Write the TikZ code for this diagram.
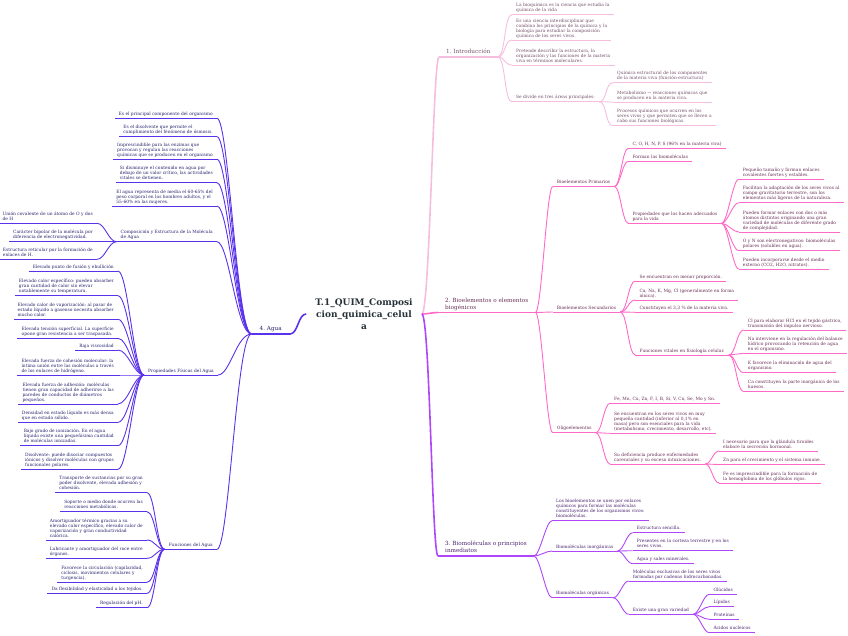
\documentclass[tikz,border=0pt]{standalone}
\usepackage{fontspec}
\setmainfont{DejaVu Serif}
\frenchspacing
\definecolor{rootText}{RGB}{38,50,56}
\definecolor{introLine}{RGB}{246,190,222}
\definecolor{introText}{RGB}{115,80,105}
\definecolor{bioLine}{RGB}{255,105,200}
\definecolor{bioText}{RGB}{105,45,85}
\definecolor{molLine}{RGB}{175,70,250}
\definecolor{molText}{RGB}{75,35,110}
\definecolor{aguaLine}{RGB}{90,50,235}
\definecolor{aguaText}{RGB}{40,35,110}
\newcommand\leaffont{\fontsize{4.4}{5}\selectfont}
\newcommand\branchfont{\fontsize{5.7}{6.8}\selectfont}
\tikzset{
myLeaf/.style={
	align=left, inner xsep=4pt, inner ysep=1.6pt,
	text depth=1.2pt, font=\leaffont
}
, myLeafR/.style={myLeaf, anchor=south west}
, myLeafL/.style={myLeaf, anchor=south east}
, myBranchR/.style={myLeafR, font=\branchfont, text depth=1.5pt, inner xsep=7pt}
, myBranchL/.style={myLeafL, font=\branchfont, text depth=1.5pt, inner xsep=8pt}
, myRoot/.style={
	align=center, inner xsep=9pt, inner ysep=2pt, text=rootText,
	font=\bfseries\fontsize{9}{12}\selectfont
}
% text colours
, myIntro/.style={myLeafR, text=introText}
, myBio/.style={myLeafR, text=bioText}
, myMol/.style={myLeafR, text=molText}
, myAgua/.style={myLeafL, text=aguaText}
% lines
, lnIntro/.style={draw=introLine, line width=0.9pt}
, lnBio/.style={draw=bioLine, line width=0.9pt}
, lnMol/.style={draw=molLine, line width=0.9pt}
, lnAgua/.style={draw=aguaLine, line width=0.9pt}
, lnMain/.style={line width=1.6pt}
% links
, myLinkR/.style={out=0,in=180,distance=#1}
, myLinkL/.style={out=180,in=0,distance=#1}
}
\begin{document}
\begin{tikzpicture}[x=1pt,y=-1pt]
	\useasboundingbox (0,0) rectangle (848,635);
	% root
	\node[myRoot] (root) at (364,314) {T.1\_QUIM\_Composi\\cion\_quimica\_celul\\a};

	% 1. Introduccion
	\node[myBranchR, text=introText] (i0) at (439,57) {1. Introducción};
	\node[myIntro] (i1) at (512,14.5) {La bioquímica es la ciencia que estudia la\\química de la vida};
	\node[myIntro] (i2) at (512,40) {Es una ciencia interdisciplinar que\\combina los principios de la química y la\\biología para estudiar la composición\\química de los seres vivos.};
	\node[myIntro] (i3) at (512,65) {Pretende describir la estructura, la\\organización y las funciones de la materia\\viva en términos moleculares.};
	\node[myIntro] (i4) at (512,101.7) {Se divide en tres áreas principales:};
	\node[myIntro] (i5) at (613,82.7) {Química estructural de los componentes\\de la materia viva (función-estructura)};
	\node[myIntro] (i6) at (613,102) {Metabolismo → reacciones químicas que\\se producen en la materia viva.};
	\node[myIntro] (i7) at (613,125.7) {Procesos químicos que ocurren en los\\seres vivos y que permiten que se lleven a\\cabo sus funciones biológicas.};

	% 2. Bioelementos
	\node[myBranchR, text=bioText] (b0) at (438,312.5) {2. Bioelementos o elementos\\biogénicos};
	\node[myBio] (b1) at (552.7,186.5) {Bioelementos Primarios};
	\node[myBio] (b11) at (628.3,148.3) {C, O, H, N, P, S (96\% en la materia viva)};
	\node[myBio] (b12) at (628.3,161.3) {Forman las biomoléculas};
	\node[myBio] (b13) at (628.3,223.3) {Propiedades que los hacen adecuados\\para la vida};
	\node[myBio] (b131) at (738.7,179.3) {Pequeño tamaño y forman enlaces\\covalentes fuertes y estables.};
	\node[myBio] (b132) at (738.7,202.7) {Facilitan la adaptación de los seres vivos al\\campo gravitatorio terrestre, son los\\elementos más ligeros de la naturaleza.};
	\node[myBio] (b133) at (738.7,232) {Pueden formar enlaces con dos o más\\átomos distintos originando una gran\\variedad de moléculas de diferente grado\\de complejidad.};
	\node[myBio] (b134) at (738.7,250.7) {O y N son electronegativos: biomoléculas\\polares (solubles en agua).};
	\node[myBio] (b135) at (738.7,269) {Pueden incorporarse desde el medio\\externo (CO2, H2O, nitratos).};
	\node[myBio] (b2) at (552.7,312) {Bioelementos Secundarios};
	\node[myBio] (b21) at (635.3,281) {Se encuentran en menor proporción.};
	\node[myBio] (b22) at (635.3,300) {Ca, Na, K, Mg, Cl (generalmente en forma\\iónica).};
	\node[myBio] (b23) at (635.3,312.3) {Constituyen el 3,3 \% de la materia viva.};
	\node[myBio] (b24) at (635.3,355) {Funciones vitales en fisiología celular.};
	\node[myBio] (b241) at (743.7,330) {Cl para elaborar HCl en el tejido gástrico,\\transmisión del impulso nervioso.};
	\node[myBio] (b242) at (743.7,353.3) {Na interviene en la regulación del balance\\hídrico provocando la retención de agua\\en el organismo.};
	\node[myBio] (b243) at (743.7,372.7) {K favorece la eliminación de agua del\\organismo.};
	\node[myBio] (b244) at (743.7,391.7) {Ca constituyen la parte inorgánica de los\\huesos.};
	\node[myBio] (b3) at (552.7,432.7) {Oligoelementos};
	\node[myBio] (b31) at (610,403.3) {Fe, Mn, Cu, Zn, F, I, B, Si, V, Co, Se, Mo y Sn.};
	\node[myBio] (b32) at (610,433.3) {Se encuentran en los seres vivos en muy\\pequeña cantidad (inferior al 0,1\% en\\masa) pero son esenciales para la vida\\(metabolismo, crecimiento, desarrollo, etc).};
	\node[myBio] (b33) at (610,464) {Su deficiencia produce enfermedades\\carenciales y su exceso intoxicaciones.};
	\node[myBio] (b331) at (719,451) {I necesario para que la glándula tiroides\\elabore la secreción hormonal.};
	\node[myBio] (b332) at (719,464.5) {Zn para el crecimiento y el sistema inmune.};
	\node[myBio] (b333) at (719,483) {Fe es imprescindible para la formación de\\la hemoglobina de los glóbulos rojos.};

	% 3. Biomoleculas
	\node[myBranchR, text=molText] (m0) at (438,556) {3. Biomoléculas o principios\\inmediatos};
	\node[myMol] (m1) at (552,520.7) {Los bioelementos se unen por enlaces\\químicos para formar las moléculas\\constituyentes de los organismos vivos:\\biomoléculas.};
	\node[myMol] (m2) at (552,551) {Biomoléculas inorgánicas};
	\node[myMol] (m21) at (632.7,532.7) {Estructura sencilla.};
	\node[myMol] (m22) at (632.7,550.7) {Presentes en la corteza terrestre y en los\\seres vivos.};
	\node[myMol] (m23) at (632.7,563.7) {Agua y sales minerales.};
	\node[myMol] (m3) at (552,597.7) {Biomoléculas orgánicas};
	\node[myMol] (m31) at (628.7,581) {Moléculas exclusivas de los seres vivos\\formadas por cadenas hidrocarbonadas.};
	\node[myMol] (m32) at (628.7,614.3) {Existe una gran variedad};
	\node[myMol] (m321) at (709.3,594.3) {Glúcidos};
	\node[myMol] (m322) at (709.3,606.7) {Lípidos};
	\node[myMol] (m323) at (709.3,619.3) {Proteínas};
	\node[myMol] (m324) at (709.3,632.7) {Ácidos nucleicos};

	% 4. Agua
	\node[myBranchL, text=aguaText] (a0) at (290,334) {4. Agua};
	\node[myAgua] (a1) at (217,118.3) {Es el principal componente del organismo};
	\node[myAgua] (a2) at (217,136.7) {Es el disolvente que permite el\\cumplimiento del fenómeno de ósmosis.};
	\node[myAgua] (a3) at (217,159.3) {Imprescindible para las enzimas que\\provocan y regulan las reacciones\\químicas que se producen en el organismo};
	\node[myAgua] (a4) at (217,182.7) {Si disminuye el contenido en agua por\\debajo de un valor crítico, las actividades\\vitales se detienen.};
	\node[myAgua] (a5) at (217,206) {El agua representa de media el 60-65\% del\\peso corporal en los hombres adultos, y el\\55-60\% en las mujeres.};
	\node[myAgua] (a6) at (217,241.7) {Composición y Estructura de la Molécula\\de Agua};
	\node[myAgua] (a61) at (97,223.3) {Unión covalente de un átomo de O y dos\\de H};
	\node[myAgua] (a62) at (97,241.7) {Carácter bipolar de la molécula por\\diferencia de electronegatividad.};
	\node[myAgua] (a63) at (97,259.3) {Estructura reticular por la formación de\\enlaces de H.};
	\node[myAgua] (a7) at (218,375) {Propiedades Físicas del Agua};
	\node[myAgua] (a71) at (118,271) {Elevado punto de fusión y ebullición};
	\node[myAgua] (a72) at (118,295.7) {Elevado calor específico: pueden absorber\\gran cantidad de calor sin elevar\\notablemente su temperatura.};
	\node[myAgua] (a73) at (118,319.3) {Elevado calor de vaporización: al pasar de\\estado líquido a gaseoso necesita absorber\\mucho calor.};
	\node[myAgua] (a74) at (118,338.3) {Elevada tensión superficial. La superficie\\opone gran resistencia a ser traspasada.};
	\node[myAgua] (a75) at (118,350) {Baja viscosidad};
	\node[myAgua] (a76) at (118,375) {Elevada fuerza de cohesión molecular: la\\íntima unión entre las moléculas a través\\de los enlaces de hidrógeno.};
	\node[myAgua] (a77) at (118,404) {Elevada fuerza de adhesión: moléculas\\tienen gran capacidad de adherirse a las\\paredes de conductos de diámetros\\pequeños.};
	\node[myAgua] (a78) at (118,422.3) {Densidad en estado líquido es más densa\\que en estado sólido.};
	\node[myAgua] (a79) at (118,445.7) {Bajo grado de ionización. En el agua\\líquida existe una pequeñísima cantidad\\de moléculas ionizadas.};
	\node[myAgua] (a710) at (118,469.3) {Disolvente: puede disociar compuestos\\iónicos y disolver moléculas con grupos\\funcionales polares.};
	\node[myAgua] (a8) at (217,549.3) {Funciones del Agua};
	\node[myAgua] (a81) at (147,492.7) {Transporte de sustancias por su gran\\poder disolvente, elevada adhesión y\\cohesión.};
	\node[myAgua] (a82) at (147,511.7) {Soporte o medio donde ocurren las\\reacciones metabólicas.};
	\node[myAgua] (a83) at (147,540) {Amortiguador térmico gracias a su\\elevado calor específico, elevado calor de\\vaporización y gran conductividad\\calórica.};
	\node[myAgua] (a84) at (147,558.3) {Lubricante y amortiguador del roce entre\\órganos.};
	\node[myAgua] (a85) at (147,582.3) {Favorece la circulación (capilaridad,\\ciclosis, movimientos celulares y\\turgencia).};
	\node[myAgua] (a86) at (147,593.3) {Da flexibilidad y elasticidad a los tejidos.};
	\node[myAgua] (a87) at (147,607.7) {Regulación del pH.};

	% main links
	\draw[lnIntro, lnMain] (root.east) to[out=0,in=180,out distance=8pt,in distance=6pt] (i0.south west);
	\draw[lnBio, lnMain] (root.east) to[out=0,in=180,distance=6pt] (b0.south west);
	\draw[lnMol, lnMain] (root.east) to[out=0,in=180,out distance=8pt,in distance=6pt] (m0.south west);
	\draw[lnAgua, lnMain] (root.west) to[out=180,in=0,distance=8pt] (a0.south east);
	\foreach \n in {i0} \draw[lnIntro, lnMain] (\n.south west) -- (\n.south east);
	\foreach \n in {b0} \draw[lnBio, lnMain] (\n.south west) -- (\n.south east);
	\foreach \n in {m0} \draw[lnMol, lnMain] (\n.south west) -- (\n.south east);
	\foreach \n in {a0} \draw[lnAgua, lnMain] (\n.south west) -- (\n.south east);

	% underlines
	\foreach \n in {i1,i2,i3,i4,i5,i6,i7}
		\draw[lnIntro] (\n.south west) -- (\n.south east);
	\foreach \n in {b1,b11,b12,b13,b131,b132,b133,b134,b135,b2,b21,b22,b23,b24,b241,b242,b243,b244,b3,b31,b32,b33,b331,b332,b333}
		\draw[lnBio] (\n.south west) -- (\n.south east);
	\foreach \n in {m1,m2,m21,m22,m23,m3,m31,m32,m321,m322,m323,m324}
		\draw[lnMol] (\n.south west) -- (\n.south east);
	\foreach \n in {a1,a2,a3,a4,a5,a6,a61,a62,a63,a7,a71,a72,a73,a74,a75,a76,a77,a78,a79,a710,a8,a81,a82,a83,a84,a85,a86,a87}
		\draw[lnAgua] (\n.south west) -- (\n.south east);

	% links
	\foreach \n in {i1,i2,i3,i4} \draw[lnIntro] (i0.south east) to[myLinkR=8pt] (\n.south west);
	\foreach \n in {i5,i6,i7} \draw[lnIntro] (i4.south east) to[myLinkR=8pt] (\n.south west);
	\foreach \n in {b1,b2,b3} \draw[lnBio] (b0.south east) to[myLinkR=6pt] (\n.south west);
	\foreach \n in {b11,b12,b13} \draw[lnBio] (b1.south east) to[myLinkR=6pt] (\n.south west);
	\foreach \n in {b131,b132,b133,b134,b135} \draw[lnBio] (b13.south east) to[myLinkR=6pt] (\n.south west);
	\foreach \n in {b21,b22,b23,b24} \draw[lnBio] (b2.south east) to[myLinkR=7pt] (\n.south west);
	\foreach \n in {b241,b242,b243,b244} \draw[lnBio] (b24.south east) to[myLinkR=7pt] (\n.south west);
	\foreach \n in {b31,b32,b33} \draw[lnBio] (b3.south east) to[myLinkR=6pt] (\n.south west);
	\foreach \n in {b331,b332,b333} \draw[lnBio] (b33.south east) to[myLinkR=6pt] (\n.south west);
	\foreach \n in {m1,m2,m3} \draw[lnMol] (m0.south east) to[myLinkR=6pt] (\n.south west);
	\foreach \n in {m21,m22,m23} \draw[lnMol] (m2.south east) to[myLinkR=6pt] (\n.south west);
	\foreach \n in {m31,m32} \draw[lnMol] (m3.south east) to[myLinkR=6pt] (\n.south west);
	\foreach \n in {m321,m322,m323,m324} \draw[lnMol] (m32.south east) to[myLinkR=6pt] (\n.south west);
	\foreach \n in {a1,a2,a3,a4,a5,a6,a7,a8}
		\draw[lnAgua] (a0.south west) to[out=180,in=0,out distance=15pt,in distance=12pt] (\n.south east);
	\foreach \n in {a61,a62,a63} \draw[lnAgua] (a6.south west) to[myLinkL=8pt] (\n.south east);
	\foreach \n in {a71,a72,a73,a74,a75,a76,a77,a78,a79,a710} \draw[lnAgua] (a7.south west) to[myLinkL=10pt] (\n.south east);
	\foreach \n in {a81,a82,a83,a84,a85,a86,a87} \draw[lnAgua] (a8.south west) to[myLinkL=8pt] (\n.south east);
\end{tikzpicture}
\end{document}
